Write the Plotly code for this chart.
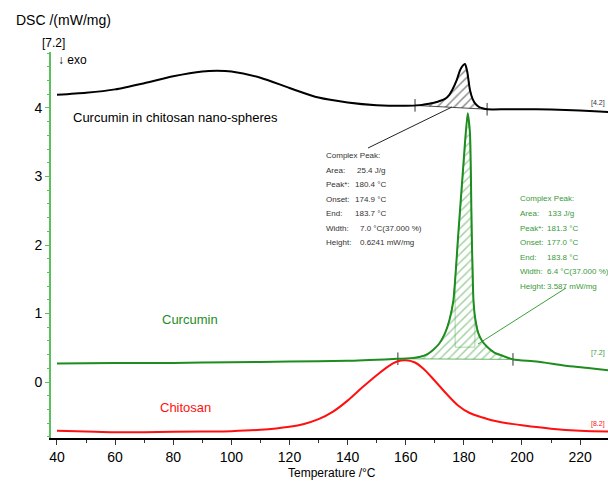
import numpy as np
import plotly.graph_objects as go

# ---------------- data ----------------
temp_nano = [40, 50, 60, 70, 80, 90, 95, 100, 110, 120, 130, 140, 150, 160, 165, 168, 171, 173.5,
             175, 176, 177.5, 178.7, 179.7, 180.4, 181.2, 182.1, 183, 183.8, 185, 186, 188, 195,
             205, 215, 225, 230]
dsc_nano = [4.19, 4.22, 4.27, 4.36, 4.46, 4.53, 4.54, 4.53, 4.44, 4.29, 4.15, 4.08, 4.04, 4.03,
            4.04, 4.06, 4.09, 4.13, 4.19, 4.26, 4.40, 4.55, 4.62, 4.64, 4.52, 4.26, 4.13, 4.07,
            4.02, 4.00, 3.98, 3.98, 3.98, 3.97, 3.95, 3.94]

temp_cur = [40, 60, 80, 100, 120, 140, 157, 162, 165, 167.5, 169.4, 171.5, 173.5, 175, 176.4,
            178.1, 179.8, 181.3, 182.1, 182.7, 183.3, 183.8, 185, 186.3, 187.9, 190.5, 193.6,
            197, 205, 215, 222, 230]
dsc_cur = [0.27, 0.28, 0.28, 0.29, 0.30, 0.31, 0.34, 0.35, 0.37, 0.41, 0.47, 0.56, 0.71, 0.90,
           1.19, 2.17, 3.15, 3.92, 3.63, 2.17, 1.20, 0.96, 0.71, 0.60, 0.52, 0.43, 0.38,
           0.33, 0.30, 0.24, 0.21, 0.17]

temp_chi = [40, 50, 60, 70, 80, 90, 100, 110, 120, 125, 130, 135, 140, 145, 150, 154, 157,
            160, 163, 166, 170, 174, 178, 182, 186, 190, 195, 200, 210, 220, 230]
dsc_chi = [-0.71, -0.72, -0.73, -0.73, -0.725, -0.72, -0.715, -0.695, -0.65, -0.61, -0.54,
           -0.43, -0.27, -0.08, 0.10, 0.23, 0.30, 0.32, 0.29, 0.20, 0.02, -0.17, -0.34, -0.45,
           -0.51, -0.56, -0.60, -0.63, -0.68, -0.71, -0.72]

nano_peak_limits = [163.2, 188.0]
cur_peak_limits = [157.3, 196.9]

peak_labels = ["Complex Peak:", "Area:", "Peak*:", "Onset:", "End:", "Width:", "Height:"]
nano_peak_values = ["", "25.4 J/g", "180.4 °C", "174.9 °C", "183.7 °C", "7.0 °C(37.000 %)", "0.6241 mW/mg"]
cur_peak_values = ["", "133 J/g", "181.3 °C", "177.0 °C", "183.8 °C", "6.4 °C(37.000 %)", "3.587 mW/mg"]

x_ticks = [40, 60, 80, 100, 120, 140, 160, 180, 200, 220]
y_ticks = [0, 1, 2, 3, 4]

# ---------------- style ----------------
FONT = "Liberation Sans Narrow, Arial Narrow, Liberation Sans, Arial, sans-serif"
BLACK = "#000000"
GREEN = "#1e8c1e"
GREEN_TXT = "#3a993a"
RED = "#ff1010"
AXIS_GREEN = "#5cc05c"

W, H = 608, 481
ML, MR, MT, MB = 51, 0, 52, 43
XR = [37.94, 229.6]
YR = [-0.815, 4.815]


def px_x(px):
    return XR[0] + (px - ML) / (W - ML - MR) * (XR[1] - XR[0])


def px_y(py):
    return YR[1] - (py - MT) / (H - MT - MB) * (YR[1] - YR[0])


def peak_polygon(T, V, lim):
    a, b = lim
    xs = [a] + [t for t in T if a < t < b] + [b]
    ys = list(np.interp(xs, T, V))
    return xs, ys


fig = go.Figure()

# hatched peak areas
for T, V, lim, col in [(temp_nano, dsc_nano, nano_peak_limits, "rgba(20,20,20,0.95)"),
                       (temp_cur, dsc_cur, cur_peak_limits, "rgba(40,150,40,0.85)")]:
    xs, ys = peak_polygon(T, V, lim)
    fig.add_trace(go.Scatter(x=xs + [xs[0]], y=ys + [ys[0]], mode="lines", fill="toself",
                             fillcolor="rgba(0,0,0,0)",
                             fillpattern=dict(shape="/", fgcolor=col, bgcolor="rgba(0,0,0,0)",
                                              size=6, solidity=0.25),
                             line=dict(color=col, width=0.8), hoverinfo="skip", showlegend=False))
    # baseline end ticks
    fig.add_trace(go.Scatter(x=[xs[0], xs[-1]], y=[ys[0], ys[-1]], mode="markers",
                             marker=dict(symbol="line-ns", size=9,
                                         line=dict(color="#333333", width=1)),
                             hoverinfo="skip", showlegend=False))

# onset / end construction lines inside curcumin peak
cur_on, cur_end = 177.0, 183.8
fig.add_trace(go.Scatter(x=[cur_on, cur_on, cur_end, cur_end], y=[1.5, 0.51, 0.51, 0.95],
                         mode="lines", line=dict(color="rgba(40,150,40,0.55)", width=0.7),
                         hoverinfo="skip", showlegend=False))

# curves
fig.add_trace(go.Scatter(x=temp_chi, y=dsc_chi, mode="lines",
                         line=dict(color=RED, width=2, shape="spline", smoothing=1.0),
                         showlegend=False))
fig.add_trace(go.Scatter(x=temp_cur, y=dsc_cur, mode="lines",
                         line=dict(color=GREEN, width=2, shape="spline", smoothing=0.6),
                         showlegend=False))
fig.add_trace(go.Scatter(x=temp_nano, y=dsc_nano, mode="lines",
                         line=dict(color=BLACK, width=2, shape="spline", smoothing=0.7),
                         showlegend=False))

# leader lines
fig.add_trace(go.Scatter(x=[px_x(368), px_x(452)], y=[px_y(148), px_y(107)], mode="lines",
                         line=dict(color="#222222", width=1), hoverinfo="skip", showlegend=False))
fig.add_trace(go.Scatter(x=[px_x(478), px_x(566)], y=[px_y(344), px_y(288)], mode="lines",
                         line=dict(color="rgba(40,150,40,0.9)", width=1), hoverinfo="skip",
                         showlegend=False))

annotations = []


def txt(text, px, py, size, color, xanchor="left"):
    annotations.append(dict(text=text, x=px_x(px), y=px_y(py), xref="x", yref="y",
                            showarrow=False, xanchor=xanchor, yanchor="middle",
                            font=dict(family=FONT, size=size, color=color)))


# curve labels
txt("Curcumin in chitosan nano-spheres", 71, 117, 13, BLACK)
txt("Curcumin", 160, 319, 13, GREEN)
txt("Chitosan", 158, 407, 13, RED)

# peak evaluation boxes
nano_rows = [155, 170, 184, 199, 213, 228, 242]
nano_val_x = [0, 355, 353, 353, 353, 358, 358]
for lab, val, py, vx in zip(peak_labels, nano_peak_values, nano_rows, nano_val_x):
    txt(lab, 324, py, 8, "#333333")
    if val:
        txt(val, vx, py, 8, "#333333")

cur_rows = [198, 213, 228, 242, 257, 271, 286]
cur_val_x = [0, 546, 545, 545, 545, 545, 545]
for lab, val, py, vx in zip(peak_labels, cur_peak_values, cur_rows, cur_val_x):
    txt(lab, 518, py, 8, GREEN_TXT)
    if val:
        txt(val, vx, py, 8, GREEN_TXT)

# curve end tags
txt("[4.2]", 589, 103, 7, "#333333")
txt("[7.2]", 589, 353, 7, GREEN_TXT)
txt("[8.2]", 589, 424, 7, RED)


def ptxt(text, px, py, size, color, xanchor="left"):
    annotations.append(dict(text=text, x=(px - ML) / (W - ML - MR),
                            y=(H - MB - py) / (H - MT - MB), xref="paper", yref="paper",
                            showarrow=False, xanchor=xanchor, yanchor="middle",
                            font=dict(family=FONT, size=size, color=color)))


ptxt("DSC /(mW/mg)", 14, 20, 14, BLACK)
ptxt("[7.2]", 40, 43, 12, BLACK)
ptxt("↓ exo", 56, 60, 12, BLACK)
ptxt("Temperature /°C", 332, 473, 12, BLACK, xanchor="center")

fig.update_layout(
    width=W, height=H,
    margin=dict(l=ML, r=MR, t=MT, b=MB, pad=0),
    paper_bgcolor="white", plot_bgcolor="white",
    font=dict(family=FONT, size=14, color=BLACK),
    annotations=annotations,
    showlegend=False,
    xaxis=dict(range=XR, tickvals=x_ticks, showgrid=False, zeroline=False, showline=True,
               linecolor=BLACK, linewidth=2, ticks="outside", ticklen=5, tickcolor="#333333",
               tickfont=dict(family=FONT, size=14, color=BLACK),
               minor=dict(dtick=10, tick0=0, ticks="outside", ticklen=3, tickcolor="#333333")),
    yaxis=dict(range=YR, tickvals=y_ticks, showgrid=False, zeroline=False, showline=True,
               linecolor=AXIS_GREEN, linewidth=2, ticks="outside", ticklen=4,
               tickcolor=AXIS_GREEN, tickfont=dict(family=FONT, size=14, color=BLACK),
               minor=dict(dtick=0.2, tick0=0, ticks="outside", ticklen=2,
                          tickcolor=AXIS_GREEN)),
)

fig.write_html("out.html")
